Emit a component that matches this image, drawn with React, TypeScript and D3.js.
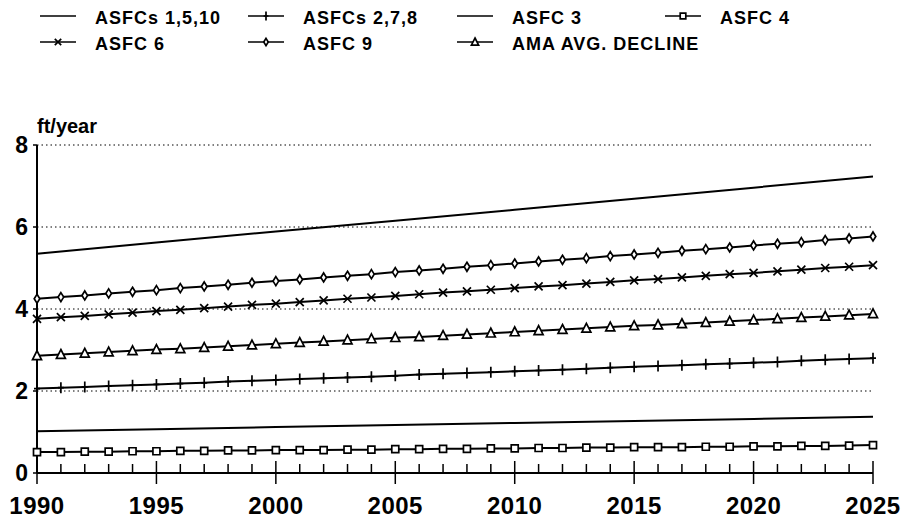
import * as d3 from 'd3';

// years on the x axis
const years = d3.range(1990, 2026);
const plainYears = [1990, 1995, 2000, 2005, 2010, 2015, 2020, 2025];

// series values (ft/year)
const asfc1510 = [5.35, 5.62, 5.89, 6.15, 6.42, 6.69, 6.96, 7.23];
const asfc3 = [1.02, 1.07, 1.12, 1.17, 1.22, 1.27, 1.32, 1.37];
const asfc278 = [2.06, 2.08, 2.1, 2.12, 2.14, 2.16, 2.18, 2.2, 2.23, 2.25, 2.27, 2.29, 2.31, 2.33, 2.35, 2.37, 2.4, 2.42, 2.44, 2.46, 2.48, 2.5, 2.52, 2.54, 2.57, 2.59, 2.61, 2.63, 2.65, 2.67, 2.69, 2.71, 2.74, 2.76, 2.78, 2.8];
const asfc4 = [0.51, 0.51, 0.52, 0.52, 0.53, 0.53, 0.54, 0.54, 0.55, 0.55, 0.56, 0.56, 0.56, 0.57, 0.57, 0.58, 0.58, 0.59, 0.59, 0.6, 0.6, 0.61, 0.61, 0.62, 0.62, 0.63, 0.63, 0.63, 0.64, 0.64, 0.65, 0.65, 0.66, 0.66, 0.67, 0.68];
const asfc6 = [3.76, 3.8, 3.83, 3.87, 3.91, 3.95, 3.98, 4.02, 4.06, 4.1, 4.13, 4.17, 4.21, 4.25, 4.28, 4.32, 4.36, 4.4, 4.43, 4.47, 4.51, 4.55, 4.58, 4.62, 4.66, 4.7, 4.73, 4.77, 4.81, 4.85, 4.88, 4.92, 4.96, 5.0, 5.03, 5.07];
const asfc9 = [4.25, 4.29, 4.33, 4.38, 4.42, 4.46, 4.51, 4.55, 4.59, 4.64, 4.68, 4.72, 4.77, 4.81, 4.85, 4.9, 4.94, 4.98, 5.03, 5.07, 5.11, 5.16, 5.2, 5.24, 5.29, 5.33, 5.37, 5.42, 5.46, 5.5, 5.55, 5.59, 5.63, 5.68, 5.72, 5.77];
const amaAvg = [2.86, 2.89, 2.92, 2.95, 2.98, 3.01, 3.03, 3.06, 3.09, 3.12, 3.15, 3.18, 3.21, 3.24, 3.27, 3.3, 3.32, 3.35, 3.38, 3.41, 3.44, 3.47, 3.5, 3.53, 3.56, 3.59, 3.61, 3.64, 3.67, 3.7, 3.73, 3.76, 3.79, 3.82, 3.85, 3.88];

const yTicks = [0, 2, 4, 6, 8];
const xLabels = [1990, 1995, 2000, 2005, 2010, 2015, 2020, 2025];

type Marker = 'none' | 'plus' | 'square' | 'cross' | 'diamond' | 'triangle';

const series: { name: string; xs: number[]; ys: number[]; marker: Marker }[] = [
  { name: 'ASFCs 1,5,10', xs: plainYears, ys: asfc1510, marker: 'none' },
  { name: 'ASFCs 2,7,8', xs: years, ys: asfc278, marker: 'plus' },
  { name: 'ASFC 3', xs: plainYears, ys: asfc3, marker: 'none' },
  { name: 'ASFC 4', xs: years, ys: asfc4, marker: 'square' },
  { name: 'ASFC 6', xs: years, ys: asfc6, marker: 'cross' },
  { name: 'ASFC 9', xs: years, ys: asfc9, marker: 'diamond' },
  { name: 'AMA AVG. DECLINE', xs: years, ys: amaAvg, marker: 'triangle' },
];

const markerPath: Record<Marker, string> = {
  none: '',
  plus: 'M0,-5.5V5.5M-3,0H3',
  square: 'M-3.5,-3.5H3.5V3.5H-3.5Z',
  cross: 'M-4,-4L4,4M-4,4L4,-4',
  diamond: 'M0,-4.5L2.8,0L0,4.5L-2.8,0Z',
  triangle: 'M0,-5L4.5,3.8H-4.5Z',
};

const font = '"Liberation Sans", Arial, sans-serif';

function Mark({ type, x, y, s = 1 }: { type: Marker; x: number; y: number; s?: number }) {
  if (type === 'none') return null;
  const filled = type === 'square' || type === 'diamond' || type === 'triangle';
  return (
    <path
      d={markerPath[type]}
      transform={`translate(${x},${y}) scale(${s})`}
      fill={filled ? '#fff' : 'none'}
      stroke="#000"
      strokeWidth={1.7 / s}
    />
  );
}

export default function App() {
  const width = 904;
  const height = 521;

  const x = d3.scaleLinear().domain([1990, 2025]).range([37, 873]);
  const y = d3.scaleLinear().domain([0, 8]).range([473, 145]);

  const line = d3
    .line<[number, number]>()
    .x((d) => x(d[0]))
    .y((d) => y(d[1]));

  const legendCols = [40, 248, 457, 665];
  const legendRows = [24, 50];

  return (
    <svg width={width} height={height} style={{ position: 'absolute', left: 0, top: 0 }}>
      <rect width={width} height={height} fill="#fff" />

      {/* legend */}
      {series.map((s, i) => {
        const cx = legendCols[i % 4];
        const cy = legendRows[Math.floor(i / 4)];
        return (
          <g key={s.name}>
            <line x1={cx} x2={cx + 36} y1={cy - 8} y2={cy - 8} stroke="#000" strokeWidth={1.6} />
            <Mark type={s.marker} x={cx + 18} y={cy - 8} s={0.8} />
            <text
              x={cx + 55}
              y={cy}
              fontFamily={font}
              fontWeight="bold"
              fontSize={18}
              letterSpacing={1}
            >
              {s.name}
            </text>
          </g>
        );
      })}

      {/* grid */}
      {yTicks.filter((t) => t > 0).map((t) => (
        <line
          key={t}
          x1={x(1990)}
          x2={x(2025)}
          y1={y(t)}
          y2={y(t)}
          stroke="#000"
          strokeWidth={1}
          strokeDasharray="1.5,3"
        />
      ))}

      {/* axes */}
      <line x1={x(1990)} x2={x(1990)} y1={y(0)} y2={y(8)} stroke="#000" strokeWidth={2} />
      <line x1={x(1990)} x2={x(2025)} y1={y(0)} y2={y(0)} stroke="#000" strokeWidth={2} />
      {years.map((yr) => {
        const major = yr % 5 === 0;
        return (
          <line
            key={yr}
            x1={x(yr)}
            x2={x(yr)}
            y1={y(0) - (major ? 12 : 9)}
            y2={y(0) + (major ? 11 : 0)}
            stroke="#000"
            strokeWidth={1.5}
          />
        );
      })}
      {yTicks.map((t) => (
        <g key={t}>
          <line x1={x(1990) - 4} x2={x(1990)} y1={y(t)} y2={y(t)} stroke="#000" strokeWidth={1.5} />
          <text
            x={x(1990) - 9}
            y={y(t)}
            dy="0.36em"
            textAnchor="end"
            fontFamily={font}
            fontWeight="bold"
            fontSize={23}
          >
            {t}
          </text>
        </g>
      ))}
      {xLabels.map((t) => (
        <text
          key={t}
          x={x(t)}
          y={514}
          textAnchor="middle"
          fontFamily={font}
          fontWeight="bold"
          fontSize={24}
          letterSpacing={0.5}
        >
          {t}
        </text>
      ))}
      <text x={37} y={133} fontFamily={font} fontWeight="bold" fontSize={20}>
        ft/year
      </text>

      {/* series */}
      {series.map((s) => {
        const pts = s.xs.map((xv, i) => [xv, s.ys[i]] as [number, number]);
        return (
          <g key={s.name}>
            <path d={line(pts) ?? ''} fill="none" stroke="#000" strokeWidth={2} />
            {pts.map((p, i) => (
              <Mark key={i} type={s.marker} x={x(p[0])} y={y(p[1])} />
            ))}
          </g>
        );
      })}
    </svg>
  );
}
